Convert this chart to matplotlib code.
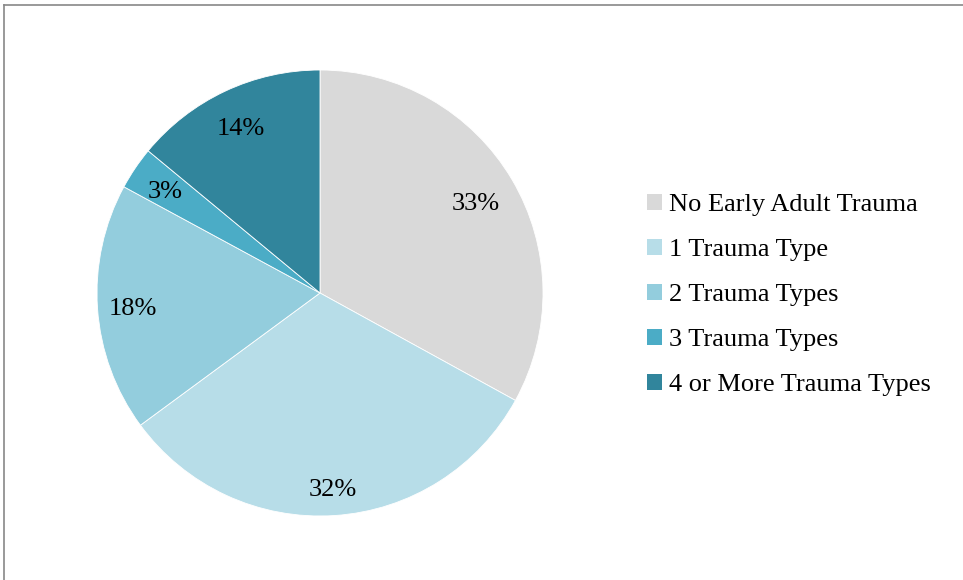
import numpy as np
import matplotlib.pyplot as plt
from matplotlib.patches import Patch
from matplotlib.lines import Line2D

plt.rcParams['font.family'] = ['Liberation Serif', 'DejaVu Serif']

# Datos del gráfico
categorias = ['No Early Adult Trauma', '1 Trauma Type', '2 Trauma Types',
              '3 Trauma Types', '4 or More Trauma Types']
valores = [33.0, 31.9, 18.0, 3.1, 14.0]
colores = ['#d9d9d9', '#b7dde8', '#93cddd', '#4bacc6', '#31859c']
# distancia radial de cada etiqueta (como en Excel "best fit")
distancias = [0.81, 0.87, 0.84, 0.84, 0.83]

fig = plt.figure(figsize=(9.63, 5.8), dpi=100)

# Ejes del pastel: centro (320, 293) px, radio 223 px
W, H = 963, 580
cx, cy, r = 320, 293, 223
ax = fig.add_axes([(cx - r) / W, (H - cy - r) / H, 2 * r / W, 2 * r / H])

wedges, textos, pcts = ax.pie(valores, colors=colores, startangle=90, counterclock=False,
                              autopct='%1.0f%%', pctdistance=0.83,
                              wedgeprops=dict(linewidth=0.6, edgecolor='white'),
                              textprops=dict(fontsize=19, color='black'))

# Reubicar las etiquetas de porcentaje
for w, t, d in zip(wedges, pcts, distancias):
    ang = np.deg2rad((w.theta1 + w.theta2) / 2)
    t.set_position((d * np.cos(ang), d * np.sin(ang) - 0.015))

ax.set_xlim(-1, 1)
ax.set_ylim(-1, 1)
ax.set_aspect('equal')

# Leyenda
handles = [Patch(facecolor=c, edgecolor='none') for c in colores]
fig.legend(handles, categorias, loc='upper left', bbox_to_anchor=(647 / W, 1 - 194 / H),
           frameon=False, fontsize=19, handlelength=0.55, handleheight=0.55,
           handletextpad=0.3, labelspacing=0.86, borderaxespad=0, borderpad=0)

# Borde gris del área del gráfico
fig.add_artist(Line2D([4 / W, 1], [1 - 5 / H, 1 - 5 / H], color='#888888', linewidth=1.2,
                      transform=fig.transFigure))
fig.add_artist(Line2D([4 / W, 4 / W], [0, 1 - 5 / H], color='#888888', linewidth=1.2,
                      transform=fig.transFigure))

fig.savefig('out.png', dpi=100)
